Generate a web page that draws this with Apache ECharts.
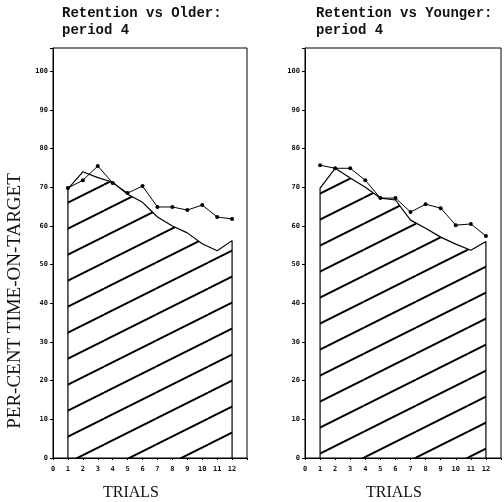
<!DOCTYPE html>
<html>
<head>
<meta charset="utf-8">
<script src="https://cdn.jsdelivr.net/npm/echarts@6/dist/echarts.min.js"></script>
<style>
  html, body { margin: 0; padding: 0; background: #fff; }
  #chart { width: 504px; height: 502px; }
</style>
</head>
<body>
<div id="chart"></div>
<script>
// Trial numbers shared by both panels
const trials = [1, 2, 3, 4, 5, 6, 7, 8, 9, 10, 11, 12];

// Left panel: retention vs older group
const olderPoints = [69.8, 71.8, 75.5, 71.1, 68.5, 70.3, 64.9, 64.9, 64.1, 65.4, 62.3, 61.8];
const olderShaded = [69.6, 74.0, 72.5, 71.3, 68.2, 66.1, 62.3, 60.0, 58.2, 55.4, 53.6, 56.2];

// Right panel: retention vs younger group
const youngerPoints = [75.7, 74.9, 74.9, 71.8, 67.2, 67.2, 63.6, 65.6, 64.6, 60.2, 60.5, 57.4];
const youngerShaded = [69.8, 74.9, 72.4, 70.0, 67.2, 66.7, 61.5, 59.4, 57.1, 55.3, 53.7, 56.0];

// Axis tick labels
const yTickLabels = [0, 10, 20, 30, 40, 50, 60, 70, 80, 90, 100];
const xTickLabels = [0, 1, 2, 3, 4, 5, 6, 7, 8, 9, 10, 11, 12];

// Diagonal hatch tile used as the area fill
function hatchPattern(phase) {
  const W = 52, H = 26;
  const c = document.createElement('canvas');
  c.width = W; c.height = H;
  const ctx = c.getContext('2d');
  ctx.strokeStyle = '#000';
  ctx.lineWidth = 2;
  for (let k = -2; k <= 3; k++) {
    ctx.beginPath();
    ctx.moveTo(0, H * (phase + k));
    ctx.lineTo(W, H * (phase + k - 1));
    ctx.stroke();
  }
  return { image: c, repeat: 'repeat' };
}

// Shaded region: closed by vertical edges at the first and last trial
function shadedData(values) {
  const d = [[trials[0], 0]];
  trials.forEach((t, i) => d.push([t, values[i]]));
  d.push([trials[trials.length - 1], 0]);
  return d;
}
function pointData(values) {
  return trials.map((t, i) => [t, values[i]]);
}

const tickFont = { fontFamily: 'DejaVu Sans Mono', fontSize: 7, fontWeight: 'bold', color: '#111' };

function xAxisFor(gridIndex) {
  return {
    type: 'value', gridIndex, min: 0, max: 13, interval: 1,
    axisLine: { lineStyle: { color: '#000', width: 1 } },
    axisTick: { length: 2, lineStyle: { color: '#000' } },
    splitLine: { show: false },
    axisLabel: Object.assign({
      margin: 8,
      formatter: v => (xTickLabels.indexOf(v) >= 0 ? String(v) : '')
    }, tickFont)
  };
}
function yAxisFor(gridIndex) {
  return {
    type: 'value', gridIndex, min: 0, max: 106, interval: 10,
    axisLine: { show: true, lineStyle: { color: '#000', width: 1 } },
    axisTick: { show: true, length: 3, lineStyle: { color: '#000' } },
    splitLine: { show: false },
    axisLabel: Object.assign({
      margin: 5,
      formatter: v => (yTickLabels.indexOf(v) >= 0 ? String(v) : '')
    }, tickFont)
  };
}

function shadedSeries(idx, values, phase) {
  return {
    type: 'line', xAxisIndex: idx, yAxisIndex: idx,
    data: shadedData(values),
    symbol: 'none', smooth: false,
    lineStyle: { color: '#000', width: 1.2 },
    areaStyle: { color: hatchPattern(phase), opacity: 1, origin: 'start' },
    z: 2, silent: true, animation: false
  };
}
function pointSeries(idx, values) {
  return {
    type: 'line', xAxisIndex: idx, yAxisIndex: idx,
    data: pointData(values),
    symbol: 'circle', symbolSize: 4,
    itemStyle: { color: '#000' },
    lineStyle: { color: '#000', width: 1 },
    z: 3, silent: true, animation: false
  };
}

const titleFont = { fontFamily: 'Liberation Mono', fontSize: 14, fontWeight: 'bold', color: '#111', lineHeight: 17 };

const chart = echarts.init(document.getElementById('chart'), null, { renderer: 'canvas' });
chart.setOption({
  backgroundColor: '#fff',
  animation: false,
  title: [
    { text: 'Retention vs Older:\nperiod 4', left: 62, top: 5, padding: 0, textStyle: titleFont },
    { text: 'Retention vs Younger:\nperiod 4', left: 316, top: 5, padding: 0, textStyle: titleFont }
  ],
  grid: [
    { left: 53, right: 257, top: 48, bottom: 44, show: true, borderColor: '#000', borderWidth: 1, backgroundColor: 'transparent' },
    { left: 305, right: 0, top: 48, bottom: 44, show: true, borderColor: '#000', borderWidth: 1, backgroundColor: 'transparent' }
  ],
  xAxis: [xAxisFor(0), xAxisFor(1)],
  yAxis: [yAxisFor(0), yAxisFor(1)],
  series: [
    shadedSeries(0, olderShaded, 0.1),
    pointSeries(0, olderPoints),
    shadedSeries(1, youngerShaded, 0.6),
    pointSeries(1, youngerPoints)
  ],
  graphic: [
    {
      type: 'text', x: 15, y: 301, rotation: Math.PI / 2,
      style: { text: 'PER-CENT TIME-ON-TARGET', fontFamily: 'Liberation Serif', fontSize: 19, fill: '#111', align: 'center', verticalAlign: 'middle' }
    },
    {
      type: 'text', x: 131, y: 493,
      style: { text: 'TRIALS', fontFamily: 'Liberation Serif', fontSize: 16, fill: '#111', align: 'center', verticalAlign: 'middle' }
    },
    {
      type: 'text', x: 394, y: 493,
      style: { text: 'TRIALS', fontFamily: 'Liberation Serif', fontSize: 16, fill: '#111', align: 'center', verticalAlign: 'middle' }
    }
  ]
});
</script>
</body>
</html>
